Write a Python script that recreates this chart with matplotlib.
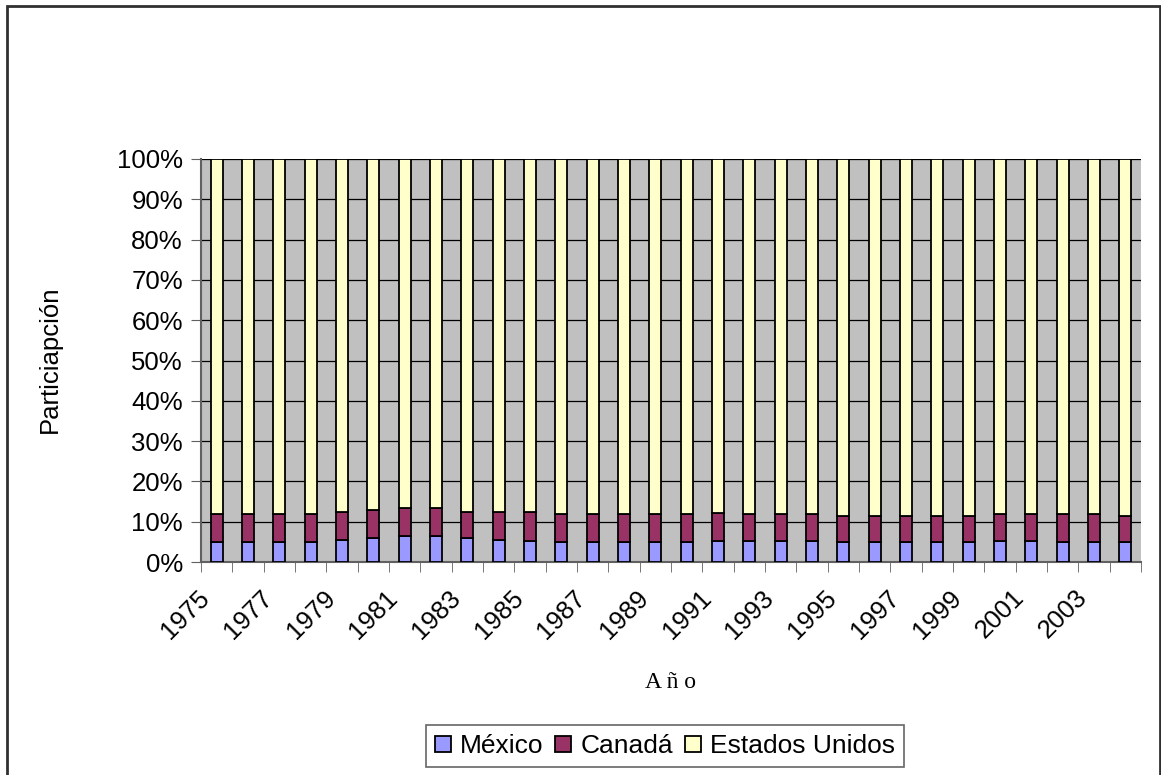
import numpy as np
import matplotlib
matplotlib.use('Agg')
import matplotlib.pyplot as plt
from matplotlib.patches import Rectangle
from matplotlib.ticker import PercentFormatter
from matplotlib.transforms import ScaledTranslation


years = list(range(1975, 2005))
mexico = [4.9, 4.9, 4.9, 4.9, 5.4, 6.0, 6.4, 6.4, 6.0, 5.4,
          5.3, 4.9, 4.9, 4.9, 4.9, 4.9, 5.3, 5.3, 5.3, 5.3,
          4.9, 4.9, 4.9, 4.9, 4.9, 5.3, 5.3, 4.9, 4.9, 4.9]
canada = [7.0, 7.0, 7.0, 7.0, 6.9, 6.9, 6.9, 6.9, 6.3, 6.9,
          7.0, 7.0, 7.0, 7.0, 7.1, 7.0, 6.8, 6.6, 6.6, 6.6,
          6.4, 6.4, 6.4, 6.4, 6.4, 6.6, 6.6, 7.0, 7.0, 6.4]
usa = [100 - m - c for m, c in zip(mexico, canada)]

plt.rcParams['font.family'] = ['Liberation Sans', 'DejaVu Sans']

fig = plt.figure(figsize=(11.61, 7.75), dpi=100)
# plot area in pixels: x 201..1141, y 159..562
ax = fig.add_axes([201 / 1161, 1 - 562 / 775, 940 / 1161, 403 / 775])
ax.set_facecolor('#C0C0C0')

x = np.arange(len(years))
w = 0.39
ax.bar(x, mexico, w, color='#9999FF', edgecolor='black', linewidth=1.3, label='México', zorder=3)
ax.bar(x, canada, w, bottom=mexico, color='#993366', edgecolor='black', linewidth=1.3, label='Canadá', zorder=3)
ax.bar(x, usa, w, bottom=np.array(mexico) + np.array(canada), color='#FFFFCC',
       edgecolor='black', linewidth=1.3, label='Estados Unidos', zorder=3)

ax.set_xlim(-0.5, len(years) - 0.5)
ax.set_ylim(0, 100)
ax.set_yticks(np.arange(0, 101, 10))
ax.yaxis.set_major_formatter(PercentFormatter(decimals=0))
ax.grid(axis='y', color='black', linewidth=0.9, zorder=1)

ax.set_xticks(x[::2], [str(y) for y in years[::2]], rotation=45, ha='right',
              rotation_mode='anchor')
ax.set_xticks(np.arange(-0.5, len(years)), minor=True)
ax.tick_params(axis='x', which='major', length=0, pad=14, labelsize=18.5)
ax.tick_params(axis='x', which='minor', length=7, color='#606060')
ax.tick_params(axis='y', length=7, color='#606060', labelsize=18.5, pad=6)

# shift year labels a bit left, like the excel chart
shift = ScaledTranslation(-0.19, -0.04, fig.dpi_scale_trans)
for lbl in ax.get_xticklabels():
    lbl.set_transform(lbl.get_transform() + shift)

for s in ['top', 'right']:
    ax.spines[s].set_visible(False)
ax.spines['left'].set_color('#606060')
ax.spines['bottom'].set_color('#606060')
ax.spines['left'].set_linewidth(1.5)
ax.spines['bottom'].set_linewidth(1.5)

fig.text(50 / 1161, 1 - 359 / 775, 'Particiapción', rotation=90, ha='center', va='center',
         fontsize=18.5)
fig.text(670 / 1161, 1 - 682 / 775, 'A ñ o', ha='center', va='center', fontsize=17,
         family=['Liberation Serif', 'DejaVu Serif'])

leg = fig.legend(loc='center', bbox_to_anchor=(665 / 1161, 1 - 746 / 775), ncol=3,
                 fontsize=19, frameon=True, fancybox=False, handlelength=0.6,
                 handleheight=0.55, handletextpad=0.35, columnspacing=0.45,
                 borderpad=0.35, borderaxespad=0)
leg.get_frame().set_edgecolor('#404040')
leg.get_frame().set_linewidth(1.2)

fig.patches.append(Rectangle((7 / 1161, -0.01), 1153 / 1161, 1.01 - 6 / 775,
                             transform=fig.transFigure, fill=False,
                             edgecolor='#303030', linewidth=2))

fig.savefig('out.png', dpi=100)
